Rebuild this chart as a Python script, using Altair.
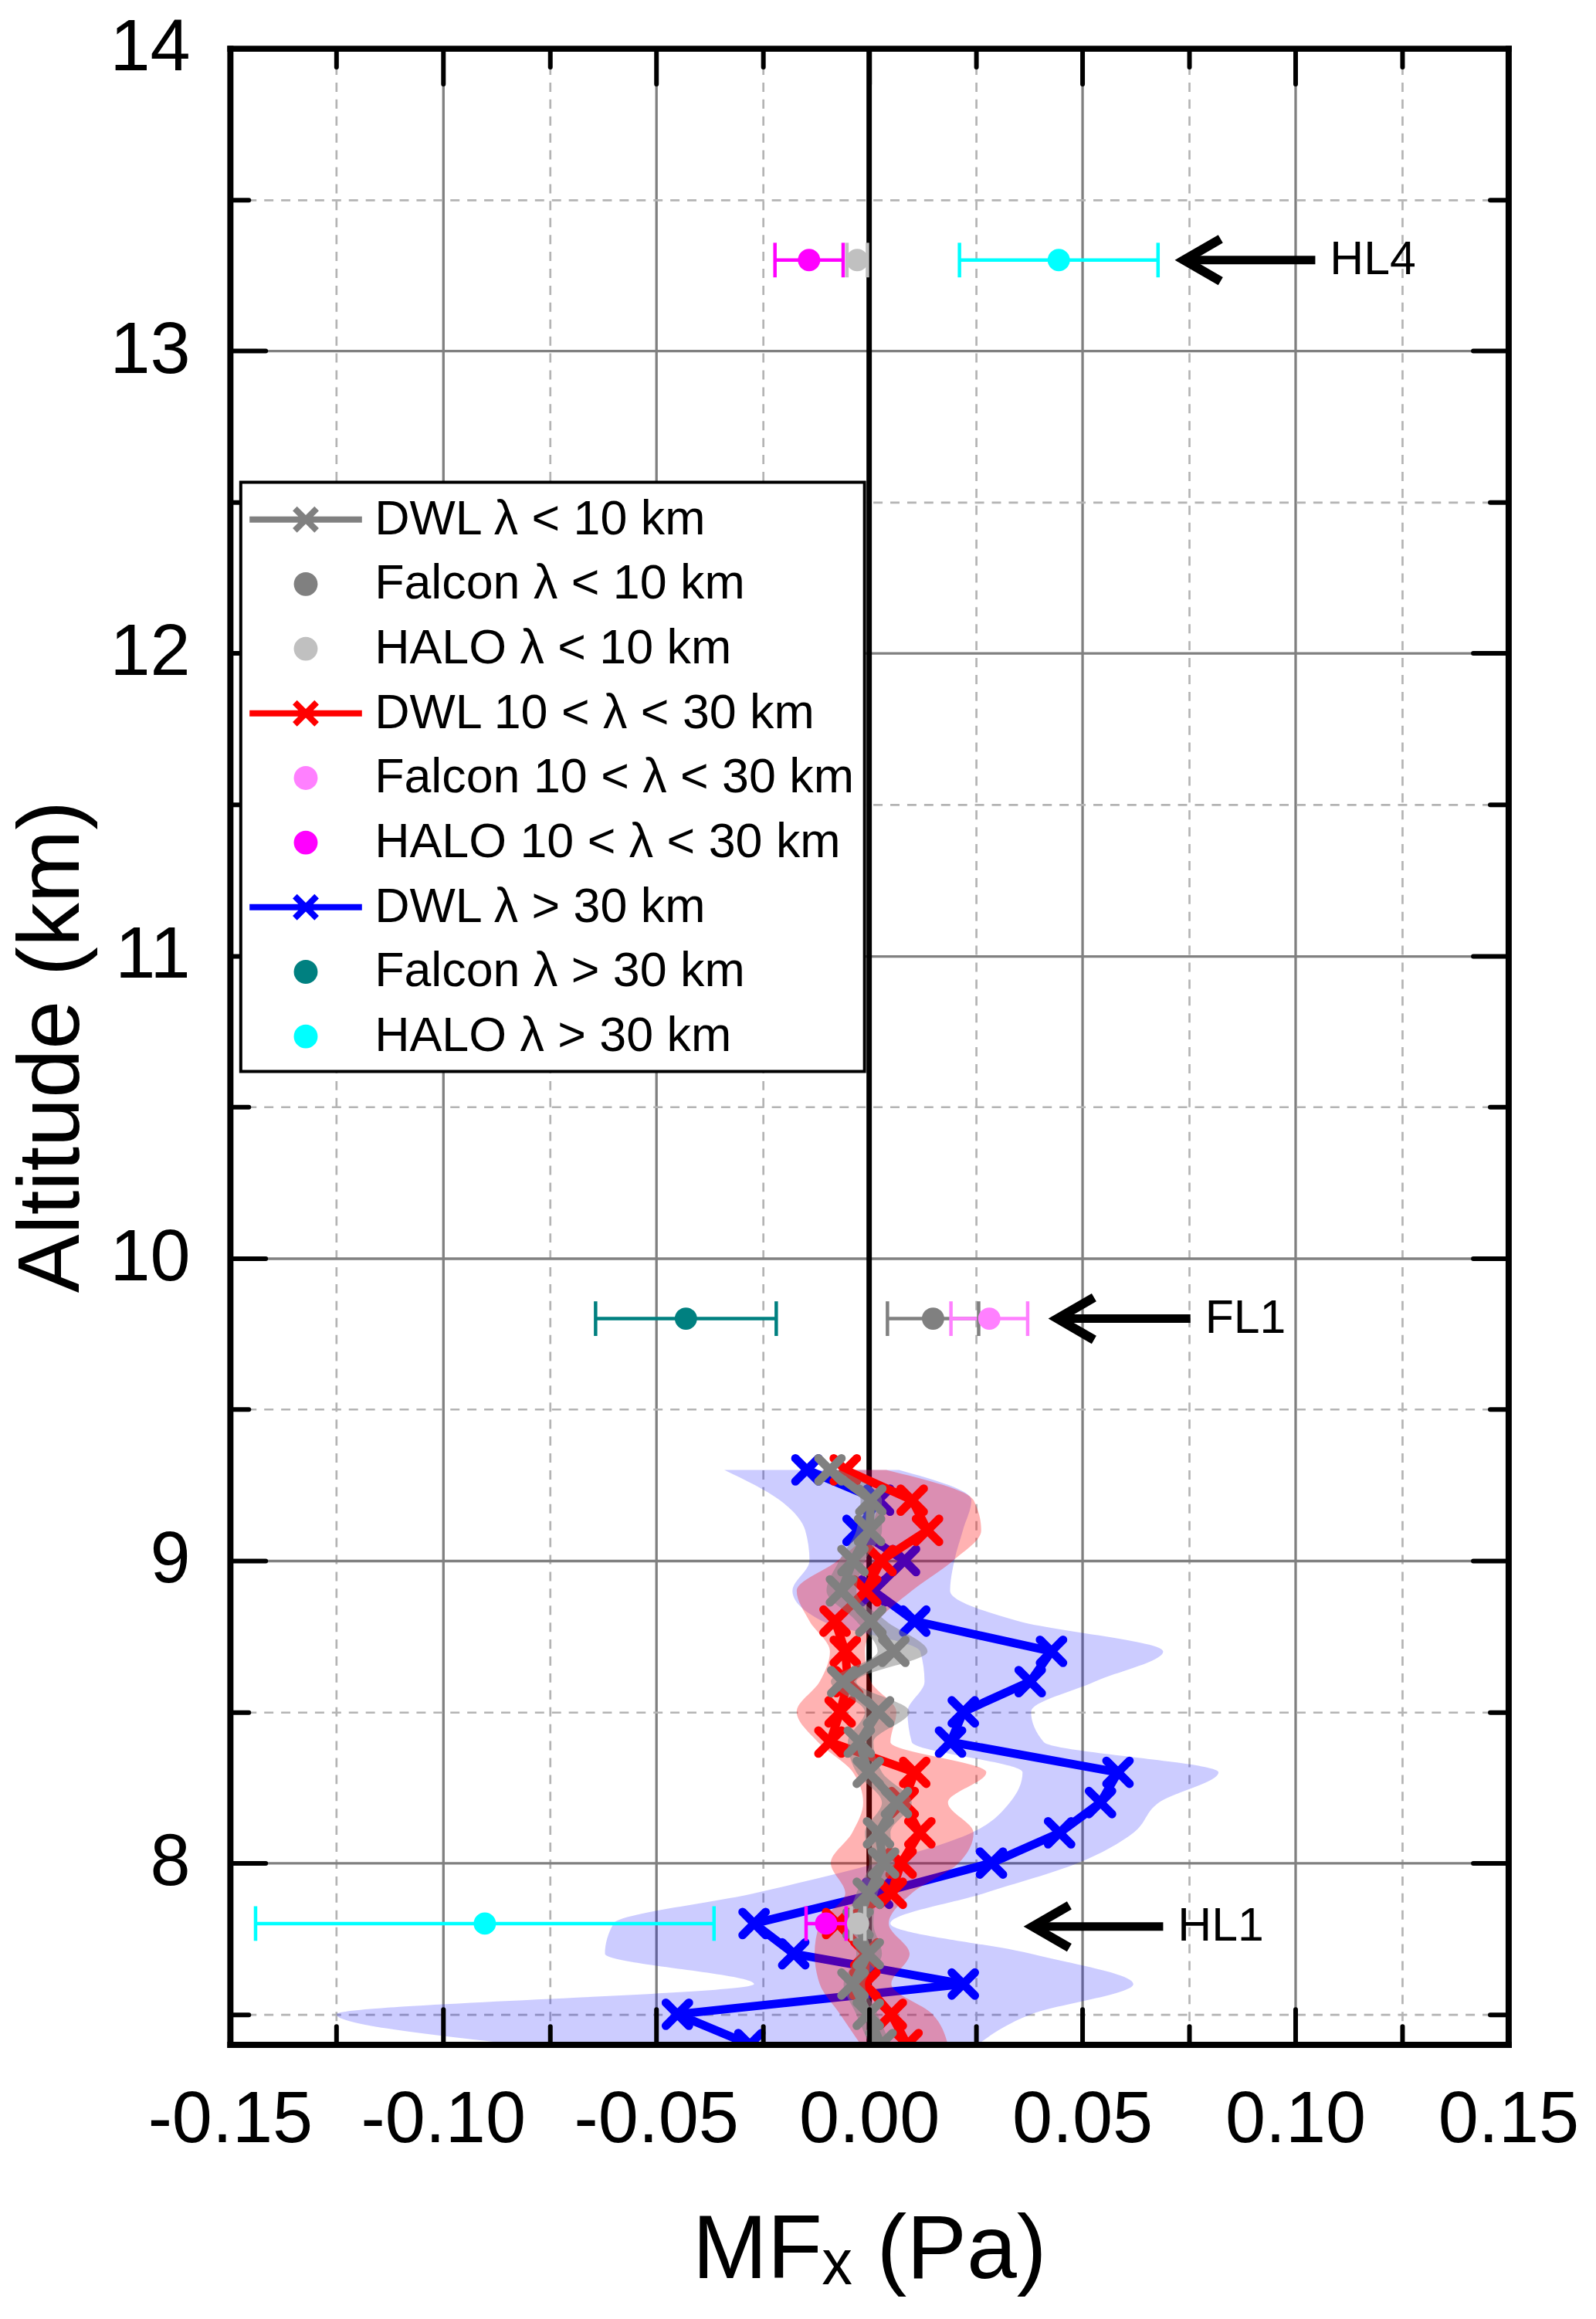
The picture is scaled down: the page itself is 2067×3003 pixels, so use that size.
import altair as alt
import pandas as pd

# ---------------- data ----------------
dwl_alt = [7.4, 7.5, 7.6, 7.7, 7.8, 7.9, 8.0, 8.1, 8.2, 8.3,
           8.4, 8.5, 8.6, 8.7, 8.8, 8.9, 9.0, 9.1, 9.2, 9.3]

gray_x = [0.0028, -0.0002, -0.0038, -0.0002, -0.0026, -0.0002, 0.0034, 0.0022, 0.0064, -0.0002,
          -0.0023, 0.0022, -0.0062, 0.0058, 0.0004, -0.0065, -0.0038, 0.0001, 0.0004, -0.0092]
gray_lo = [0.000, -0.003, -0.006, -0.003, -0.005, -0.003, 0.000, -0.001, 0.003, -0.003,
           -0.005, -0.001, -0.009, 0.002, -0.003, -0.010, -0.007, -0.003, -0.002, -0.011]
gray_hi = [0.005, 0.002, -0.001, 0.003, 0.001, 0.002, 0.006, 0.005, 0.010, 0.003,
           0.001, 0.0095, -0.003, 0.0137, 0.004, -0.003, -0.001, 0.003, 0.003, -0.007]

red_x = [0.0089, 0.0052, -0.0010, -0.0008, -0.0074, 0.0052, 0.0075, 0.0119, 0.0080, 0.0107,
         -0.0092, -0.0068, -0.0050, -0.0056, -0.0080, -0.0008, 0.0028, 0.0137, 0.0101, -0.0056]
red_lo = [-0.002, -0.0068, -0.0116, -0.0128, -0.0116, -0.0056, -0.009, -0.004, -0.0014, -0.0038,
          -0.012, -0.017, -0.0116, -0.0092, -0.014, -0.017, -0.0074, 0.000, 0.002, -0.004]
red_hi = [0.0185, 0.0149, 0.0052, 0.0095, 0.0046, 0.010, 0.021, 0.0245, 0.0185, 0.0275,
          0.005, 0.0064, 0.0004, -0.001, 0.002, 0.010, 0.0197, 0.0263, 0.0245, 0.004]

blue_x = [-0.028, -0.045, 0.0221, -0.0177, -0.027, 0.002, 0.0287, 0.0447, 0.0543, 0.0584,
          0.0191, 0.0221, 0.0378, 0.0428, 0.0107, 0.001, 0.0083, -0.0026, 0.0022, -0.0146]
blue_lo = [-0.082, -0.125, -0.027, -0.062, -0.060, -0.027, 0.002, 0.024, 0.033, 0.036,
           0.010, 0.009, 0.013, 0.012, -0.011, -0.018, -0.014, -0.015, -0.021, -0.034]
blue_hi = [0.0255, 0.038, 0.062, 0.038, 0.005, 0.027, 0.049, 0.062, 0.068, 0.082,
           0.041, 0.038, 0.053, 0.069, 0.035, 0.019, 0.020, 0.022, 0.024, 0.007]

legend_labels = ["DWL λ < 10 km", "Falcon λ < 10 km", "HALO λ < 10 km",
                 "DWL 10 < λ < 30 km", "Falcon 10 < λ < 30 km", "HALO 10 < λ < 30 km",
                 "DWL λ > 30 km", "Falcon λ > 30 km", "HALO λ > 30 km"]
legend_colors = ["#808080", "#808080", "#c0c0c0",
                 "#ff0000", "#ff80ff", "#ff00ff",
                 "#0000ff", "#008080", "#00ffff"]

air_series = ["HALO 10 < λ < 30 km", "HALO λ < 10 km", "HALO λ > 30 km",
              "Falcon λ > 30 km", "Falcon λ < 10 km", "Falcon 10 < λ < 30 km",
              "HALO λ > 30 km", "HALO 10 < λ < 30 km", "HALO λ < 10 km"]
air_alt = [13.3, 13.3, 13.3, 9.8, 9.8, 9.8, 7.8, 7.8, 7.8]
air_x = [-0.0141, -0.0028, 0.0445, -0.0430, 0.0150, 0.0282, -0.0902, -0.0101, -0.0026]
air_err = [0.0080, 0.0024, 0.0233, 0.0212, 0.0107, 0.0090, 0.0538, 0.0047, 0.0016]

arrow_label = ["HL4", "FL1", "HL1"]
arrow_alt = [13.3, 9.8, 7.79]
arrow_tip = [0.0739, 0.0442, 0.0384]
arrow_tail = [0.1047, 0.0754, 0.0690]

zero_line = [0.0]

x_tick_vals = [-0.15, -0.125, -0.1, -0.075, -0.05, -0.025, 0.0, 0.025, 0.05, 0.075, 0.1, 0.125, 0.15]
x_label_vals = [-0.15, -0.1, -0.05, 0.0, 0.05, 0.1, 0.15]
y_tick_vals = [7.5, 8.0, 8.5, 9.0, 9.5, 10.0, 10.5, 11.0, 11.5, 12.0, 12.5, 13.0, 13.5, 14.0]
y_label_vals = [8, 9, 10, 11, 12, 13, 14]

# ---------------- tables ----------------
dwl = pd.DataFrame({"alt": dwl_alt,
                    "gx": gray_x, "glo": gray_lo, "ghi": gray_hi,
                    "rx": red_x, "rlo": red_lo, "rhi": red_hi,
                    "bx": blue_x, "blo": blue_lo, "bhi": blue_hi})
cmap = dict(zip(legend_labels, legend_colors))
air = pd.DataFrame({"series": air_series, "alt": air_alt, "x": air_x, "err": air_err})
air["lo"] = air["x"] - air["err"]
air["hi"] = air["x"] + air["err"]
air["col"] = air["series"].map(cmap)
caps = pd.concat([air.assign(cx=air["lo"]), air.assign(cx=air["hi"])], ignore_index=True)
arrows = pd.DataFrame({"label": arrow_label, "alt": arrow_alt, "tip": arrow_tip, "tail": arrow_tail})

# ---------------- style ----------------
F = "Liberation Sans"
W, H = 1662, 2595
XMAJ = "abs(datum.value*20 - round(datum.value*20)) < 0.01"
YMAJ = "abs(datum.value - round(datum.value)) < 0.01"
XPATH = "M-1,-1L1,1M-1,1L1,-1"
DWL_SYM = "M-2.32,0H2.32M-0.45,-0.45L0.45,0.45M-0.45,0.45L0.45,-0.45"
DOT_SYM = "M-0.365,0A0.365,0.365,0,1,0,0.365,0A0.365,0.365,0,1,0,-0.365,0"
legend_shapes = [DWL_SYM if lab.startswith("DWL") else DOT_SYM for lab in legend_labels]

xs = alt.Scale(domain=[-0.15, 0.15], nice=False, zero=False)
ys = alt.Scale(domain=[7.4, 14], nice=False, zero=False)


def X(f, axis=None):
    return alt.X(f, type="quantitative", scale=xs, axis=axis)


def Y(f, axis=None):
    return alt.Y(f, type="quantitative", scale=ys, axis=axis)


def grid_axis(orient, vals, test):
    return alt.Axis(orient=orient, values=vals, grid=True,
                    gridColor={"condition": {"test": test, "value": "#808080"}, "value": "#b4b4b4"},
                    gridDash={"condition": {"test": test, "value": []}, "value": [12, 10]},
                    gridWidth={"condition": {"test": test, "value": 3.3}, "value": 2.7},
                    labels=False, ticks=False, domain=False, title=None, zindex=0)


def tick_axis(orient, vals, test, offset):
    return alt.Axis(orient=orient, offset=offset, values=vals, labels=False, grid=False,
                    domain=True, domainColor="black", domainWidth=8, domainCap="square",
                    ticks=True, tickColor="black", tickWidth=6, tickCap="round",
                    tickSize={"condition": {"test": test, "value": 46}, "value": 24},
                    title=None, zindex=1)


x_grid = grid_axis("bottom", x_tick_vals, XMAJ)
y_grid = grid_axis("left", y_tick_vals, YMAJ)
x_bottom_ticks = tick_axis("top", x_tick_vals, XMAJ, -H)
x_top_ticks = tick_axis("bottom", x_tick_vals, XMAJ, -H)
y_left_ticks = tick_axis("right", y_tick_vals, YMAJ, -W)
y_right_ticks = tick_axis("left", y_tick_vals, YMAJ, -W)

x_labels = alt.Axis(orient="bottom", values=x_label_vals, format=".2f",
                    labelExpr="replace(datum.label, '\u2212', '-')",
                    labelFontSize=94, labelFont=F, labelColor="black", labelPadding=52,
                    labelLimit=1000, labelFlush=False, labelOverlap=False,
                    ticks=False, tickSize=0,
                    domain=False, grid=False, title="MF\u2093 (Pa)", titleFontSize=117,
                    titleFont=F, titleFontWeight="normal", titleColor="black",
                    titlePadding=66, zindex=1)
y_labels = alt.Axis(orient="left", values=y_label_vals, format="d",
                    labelFontSize=94, labelFont=F, labelColor="black", labelPadding=52,
                    labelLimit=1000, labelFlush=False, labelOverlap=False,
                    ticks=False, tickSize=0,
                    domain=False, grid=False, title="Altitude (km)", titleFontSize=114,
                    titleFont=F, titleFontWeight="normal", titleColor="black",
                    titlePadding=17, zindex=1)

# ---------------- layers ----------------
zero = alt.Chart(pd.DataFrame({"v": zero_line})).mark_rule(
    color="black", strokeWidth=7).encode(x=X("v"))


def band(lo, hi, color, op, xa=None, ya=None):
    return alt.Chart(dwl).mark_area(orient="horizontal", interpolate="monotone",
                                    color=color, opacity=op).encode(
        x=X(lo, xa), x2=alt.X2(hi), y=Y("alt", ya))


def line(xf, color, xa=None, ya=None):
    return alt.Chart(dwl).mark_line(color=color, strokeWidth=11, clip=True,
                                    strokeCap="round", strokeJoin="round").encode(
        x=X(xf, xa), y=Y("alt", ya), order=alt.Order("alt:Q"))


def markers(xf, color):
    return alt.Chart(dwl).mark_point(shape=XPATH, size=900, filled=False, strokeWidth=11,
                                     strokeCap="round", opacity=1, color=color,
                                     clip=True).encode(x=X(xf), y=Y("alt"))


blue_band = band("blo", "bhi", "#0000ff", 0.2, x_grid, y_grid)
blue_line = line("bx", "#0000ff", x_labels, y_labels)
blue_mk = markers("bx", "#0000ff")
red_band = band("rlo", "rhi", "#ff0000", 0.3, x_bottom_ticks, y_left_ticks)
red_line = line("rx", "#ff0000", x_top_ticks, y_right_ticks)
red_mk = markers("rx", "#ff0000")
gray_band = band("glo", "ghi", "#808080", 0.5)
gray_line = line("gx", "#808080")
gray_mk = markers("gx", "#808080")

err_rule = alt.Chart(air).mark_rule(strokeWidth=4.5).encode(
    x=X("lo"), x2=alt.X2("hi"), y=Y("alt"), stroke=alt.Stroke("col:N", scale=None))
err_caps = alt.Chart(caps).mark_point(shape="M0,-1L0,1", size=2025, filled=False,
                                      strokeWidth=4.5, opacity=1).encode(
    x=X("cx"), y=Y("alt"), stroke=alt.Stroke("col:N", scale=None))

leg = alt.Legend(orient="none", legendX=14, legendY=564, title=None,
                 labelFontSize=63, labelFont=F, labelColor="black", labelLimit=2000,
                 labelOffset=54, symbolSize=3969, symbolStrokeWidth=8, symbolOffset=36,
                 rowPadding=16, padding=13, strokeColor="black", fillColor="white",
                 zindex=2)
dots = alt.Chart(air).mark_point(filled=True, size=3306, strokeWidth=8, opacity=1).encode(
    x=X("x"), y=Y("alt"),
    fill=alt.Fill("series:N", scale=alt.Scale(domain=legend_labels, range=legend_colors), legend=leg),
    stroke=alt.Stroke("series:N", scale=alt.Scale(domain=legend_labels, range=legend_colors), legend=leg),
    shape=alt.Shape("series:N", scale=alt.Scale(domain=legend_labels, range=legend_shapes), legend=leg),
)

shaft = alt.Chart(arrows).mark_rule(color="black", strokeWidth=11).encode(
    x=X("tip"), x2=alt.X2("tail"), y=Y("alt"))
head = alt.Chart(arrows).mark_point(shape="M0.95,-0.55L0,0L0.95,0.55", size=10000,
                                    filled=False, strokeWidth=12, color="black",
                                    opacity=1).encode(x=X("tip"), y=Y("alt"))
labels = alt.Chart(arrows).mark_text(align="left", baseline="middle", dx=19, fontSize=61,
                                     font=F, color="black").encode(
    x=X("tail"), y=Y("alt"), text="label:N")

chart = alt.layer(
    zero, blue_band, blue_line, blue_mk, red_band, red_line, red_mk,
    gray_band, gray_line, gray_mk, err_rule, err_caps, dots, shaft, head, labels
).resolve_axis(x="independent", y="independent").properties(
    width=W, height=H,
    autosize=alt.AutoSizeParams(type="none"),
    padding={"left": 291, "top": 49, "right": 106, "bottom": 351},
    background="white",
).configure_view(stroke=None).configure_legend(strokeWidth=4)

chart.save("out.html", embed_options={"renderer": "svg", "actions": False})
